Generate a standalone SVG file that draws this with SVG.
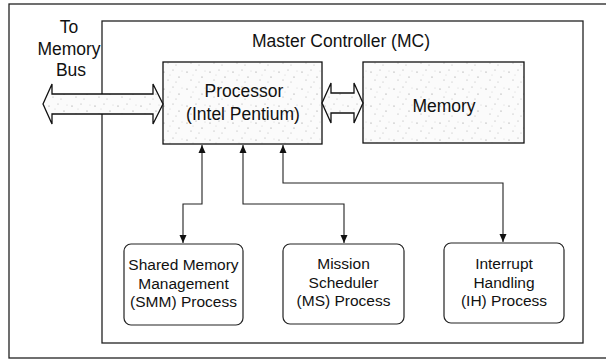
<svg xmlns="http://www.w3.org/2000/svg" width="606" height="360" viewBox="0 0 606 360">
<style>
text{font-family:"Liberation Sans",Arial,sans-serif;fill:#111;text-anchor:middle}
.frame{fill:none;stroke:#222;stroke-width:1.3}
.stip{fill:url(#stipple);stroke:#111;stroke-width:1.3}
.proc{fill:#fff;stroke:#222;stroke-width:1.2}
.conn{fill:none;stroke:#222;stroke-width:1.1}
.big{font-size:17.5px}
.small{font-size:15.5px}
</style>
<defs>
<pattern id="stipple" width="23" height="17" patternUnits="userSpaceOnUse">
<rect width="23" height="17" fill="#fbfbfb"/>
<circle cx="3" cy="4" r="0.6" fill="#888"/>
<circle cx="12" cy="2" r="0.5" fill="#999"/>
<circle cx="18" cy="9" r="0.6" fill="#888"/>
<circle cx="7" cy="12" r="0.5" fill="#999"/>
<circle cx="15" cy="14" r="0.5" fill="#aaa"/>
<circle cx="21" cy="3" r="0.4" fill="#aaa"/>
<circle cx="9" cy="7" r="0.4" fill="#aaa"/>
</pattern>
<marker id="ah" viewBox="0 0 8 10" refX="8" refY="5" markerWidth="8" markerHeight="10" orient="auto-start-reverse" markerUnits="userSpaceOnUse">
<path d="M0,1.5 L8,5 L0,8.5 Z" fill="#111"/>
</marker>
</defs>
<rect class="frame" x="9" y="4" width="620" height="354"/>
<g id="mc">
<rect class="frame" x="102" y="21" width="481" height="322"/>
<text class="big" x="341" y="47">Master Controller (MC)</text>
</g>
<g id="tomembus">
<text class="big" x="69" y="33">To</text>
<text class="big" x="69" y="55">Memory</text>
<text class="big" x="71" y="76">Bus</text>
</g>
<g id="processor">
<rect class="stip" x="163" y="62" width="159" height="82"/>
<text class="big" x="244" y="97">Processor</text>
<text class="big" x="243" y="120">(Intel Pentium)</text>
</g>
<g id="memory">
<rect class="stip" x="363" y="62" width="161" height="81"/>
<text class="big" x="444" y="112">Memory</text>
</g>
<g id="smm">
<rect class="proc" x="124" y="244" width="119" height="81" rx="7"/>
<text class="small" x="183.5" y="270">Shared Memory</text>
<text class="small" x="183.5" y="288.5">Management</text>
<text class="small" x="183.5" y="307">(SMM) Process</text>
</g>
<g id="ms">
<rect class="proc" x="283" y="244" width="121" height="80" rx="7"/>
<text class="small" x="343.5" y="269">Mission</text>
<text class="small" x="343.5" y="287.5">Scheduler</text>
<text class="small" x="343.5" y="306">(MS) Process</text>
</g>
<g id="ih">
<rect class="proc" x="444" y="243" width="120" height="80" rx="7"/>
<text class="small" x="504" y="269">Interrupt</text>
<text class="small" x="504" y="287.5">Handling</text>
<text class="small" x="504" y="306">(IH) Process</text>
</g>
<g id="connectors">
<path class="stip" d="M43,104 L52,84 L52,94 L153,94 L153,84 L163,104 L153,124 L153,114 L52,114 L52,124 Z"/>
<path class="stip" d="M322,103 L331,83 L331,93 L354,93 L354,83 L363,103 L354,123 L354,113 L331,113 L331,123 Z"/>
<path class="conn" d="M202,145 L202,204 L183,204 L183,243" marker-start="url(#ah)" marker-end="url(#ah)"/>
<path class="conn" d="M243,145 L243,204 L344,204 L344,243" marker-start="url(#ah)" marker-end="url(#ah)"/>
<path class="conn" d="M283,145 L283,183 L503,183 L503,242" marker-start="url(#ah)" marker-end="url(#ah)"/>
</g>
</svg>
